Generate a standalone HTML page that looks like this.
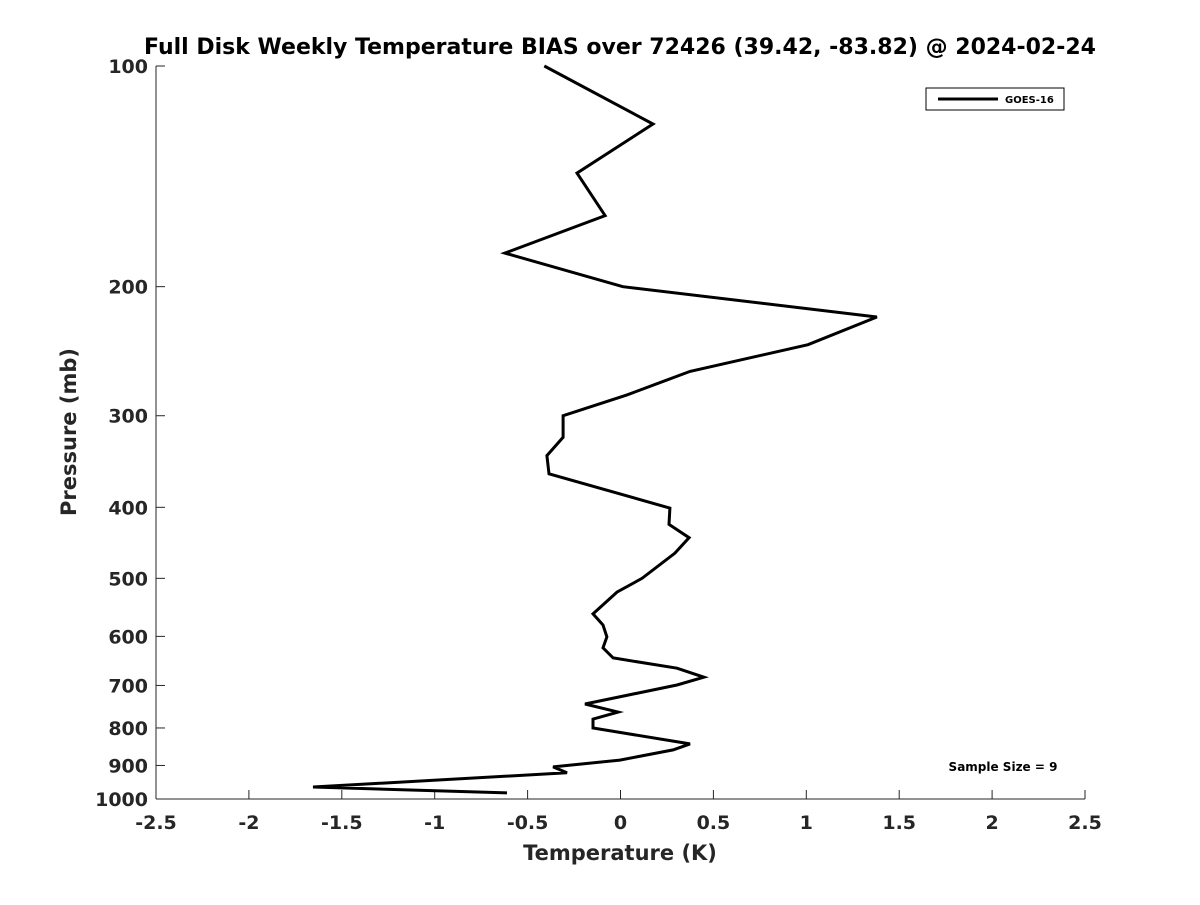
<!DOCTYPE html>
<html><head><meta charset="utf-8"><style>
body{margin:0;background:#fff;font-family:"Liberation Sans","DejaVu Sans",sans-serif;}
svg text{font-family:"DejaVu Sans","Liberation Sans",sans-serif;font-weight:bold;fill:#262626;}
</style></head><body>
<svg id="chart" width="1200" height="900" xmlns="http://www.w3.org/2000/svg">
<rect width="1200" height="900" fill="#fff"/>
<text x="620" y="54" text-anchor="middle" font-size="22" style="fill:#000">Full Disk Weekly Temperature BIAS over 72426 (39.42, -83.82) @ 2024-02-24</text>
<g id="axes"></g>
<g id="plot"></g>
<text x="620" y="860" text-anchor="middle" font-size="21">Temperature (K)</text>
<text transform="translate(76,432) rotate(-90)" text-anchor="middle" font-size="21">Pressure (mb)</text>
<g>
<rect x="926" y="88" width="138" height="22" fill="#fff" stroke="#000" stroke-width="1"/>
<line x1="938" y1="99" x2="998" y2="99" stroke="#000" stroke-width="3"/>
<text x="1005" y="103" font-size="10" style="fill:#000">GOES-16</text>
</g>
<text x="1003" y="771" text-anchor="middle" font-size="12" style="fill:#000">Sample Size = 9</text>
</svg>
<script>
const temps = [-0.41,0.175,-0.234,-0.083,-0.622,0.013,1.38,1.009,0.374,0.035,-0.309,-0.309,-0.396,-0.385,0.266,0.261,0.369,0.293,0.116,-0.019,-0.148,-0.094,-0.073,-0.094,-0.04,0.304,0.449,0.304,-0.191,-0.013,-0.148,-0.148,0.374,0.283,-0.003,-0.363,-0.288,-1.655,-0.611];
const pressures = [100,120,140,160,180,200,220,240,261,281,300,321,340,360,401,422,440,462,500,522,559,579,601,622,642,663,682,699,742,761,778,800,841,857,885,904,921,963,981];
const xTicks = [-2.5,-2,-1.5,-1,-0.5,0,0.5,1,1.5,2,2.5];
const yTicks = [100,200,300,400,500,600,700,800,900,1000];
const NS="http://www.w3.org/2000/svg";
const L=156,R=1085,T=66,B=799;
function xs(v){return L+(v+2.5)/5*(R-L);}
function ys(p){return T+(Math.log10(p)-2)*(B-T);}
const axes=document.getElementById('axes');
function mk(tag,attrs,parent){const e=document.createElementNS(NS,tag);for(const k in attrs)e.setAttribute(k,attrs[k]);parent.appendChild(e);return e;}
const xa=mk('line',{x1:L,y1:B,x2:R,y2:B,stroke:'#262626','stroke-width':1},axes);


const ya=mk('line',{x1:L,y1:T,x2:L,y2:B,stroke:'#262626','stroke-width':1},axes);


xTicks.forEach(v=>{const x=xs(v);
 const t=mk('line',{x1:x,y1:B,x2:x,y2:B-9,stroke:'#262626'},axes);
 
 
 const lb=mk('text',{x:x,y:B+30,'text-anchor':'middle','font-size':19},axes);lb.textContent=String(v);
 
 
});
yTicks.forEach(p=>{const y=ys(p);
 const t=mk('line',{x1:L,y1:y,x2:L+9,y2:y,stroke:'#262626'},axes);
 
 
 const lb=mk('text',{x:L-8,y:y+7,'text-anchor':'end','font-size':19},axes);lb.textContent=String(p);
 
 
});
const pts=temps.map((v,i)=>xs(v).toFixed(1)+','+ys(pressures[i]).toFixed(1)).join(' ');
const line=mk('polyline',{points:pts,fill:'none',stroke:'#000','stroke-width':3,'stroke-linejoin':'miter'},document.getElementById('plot'));


</script>
</body></html>
